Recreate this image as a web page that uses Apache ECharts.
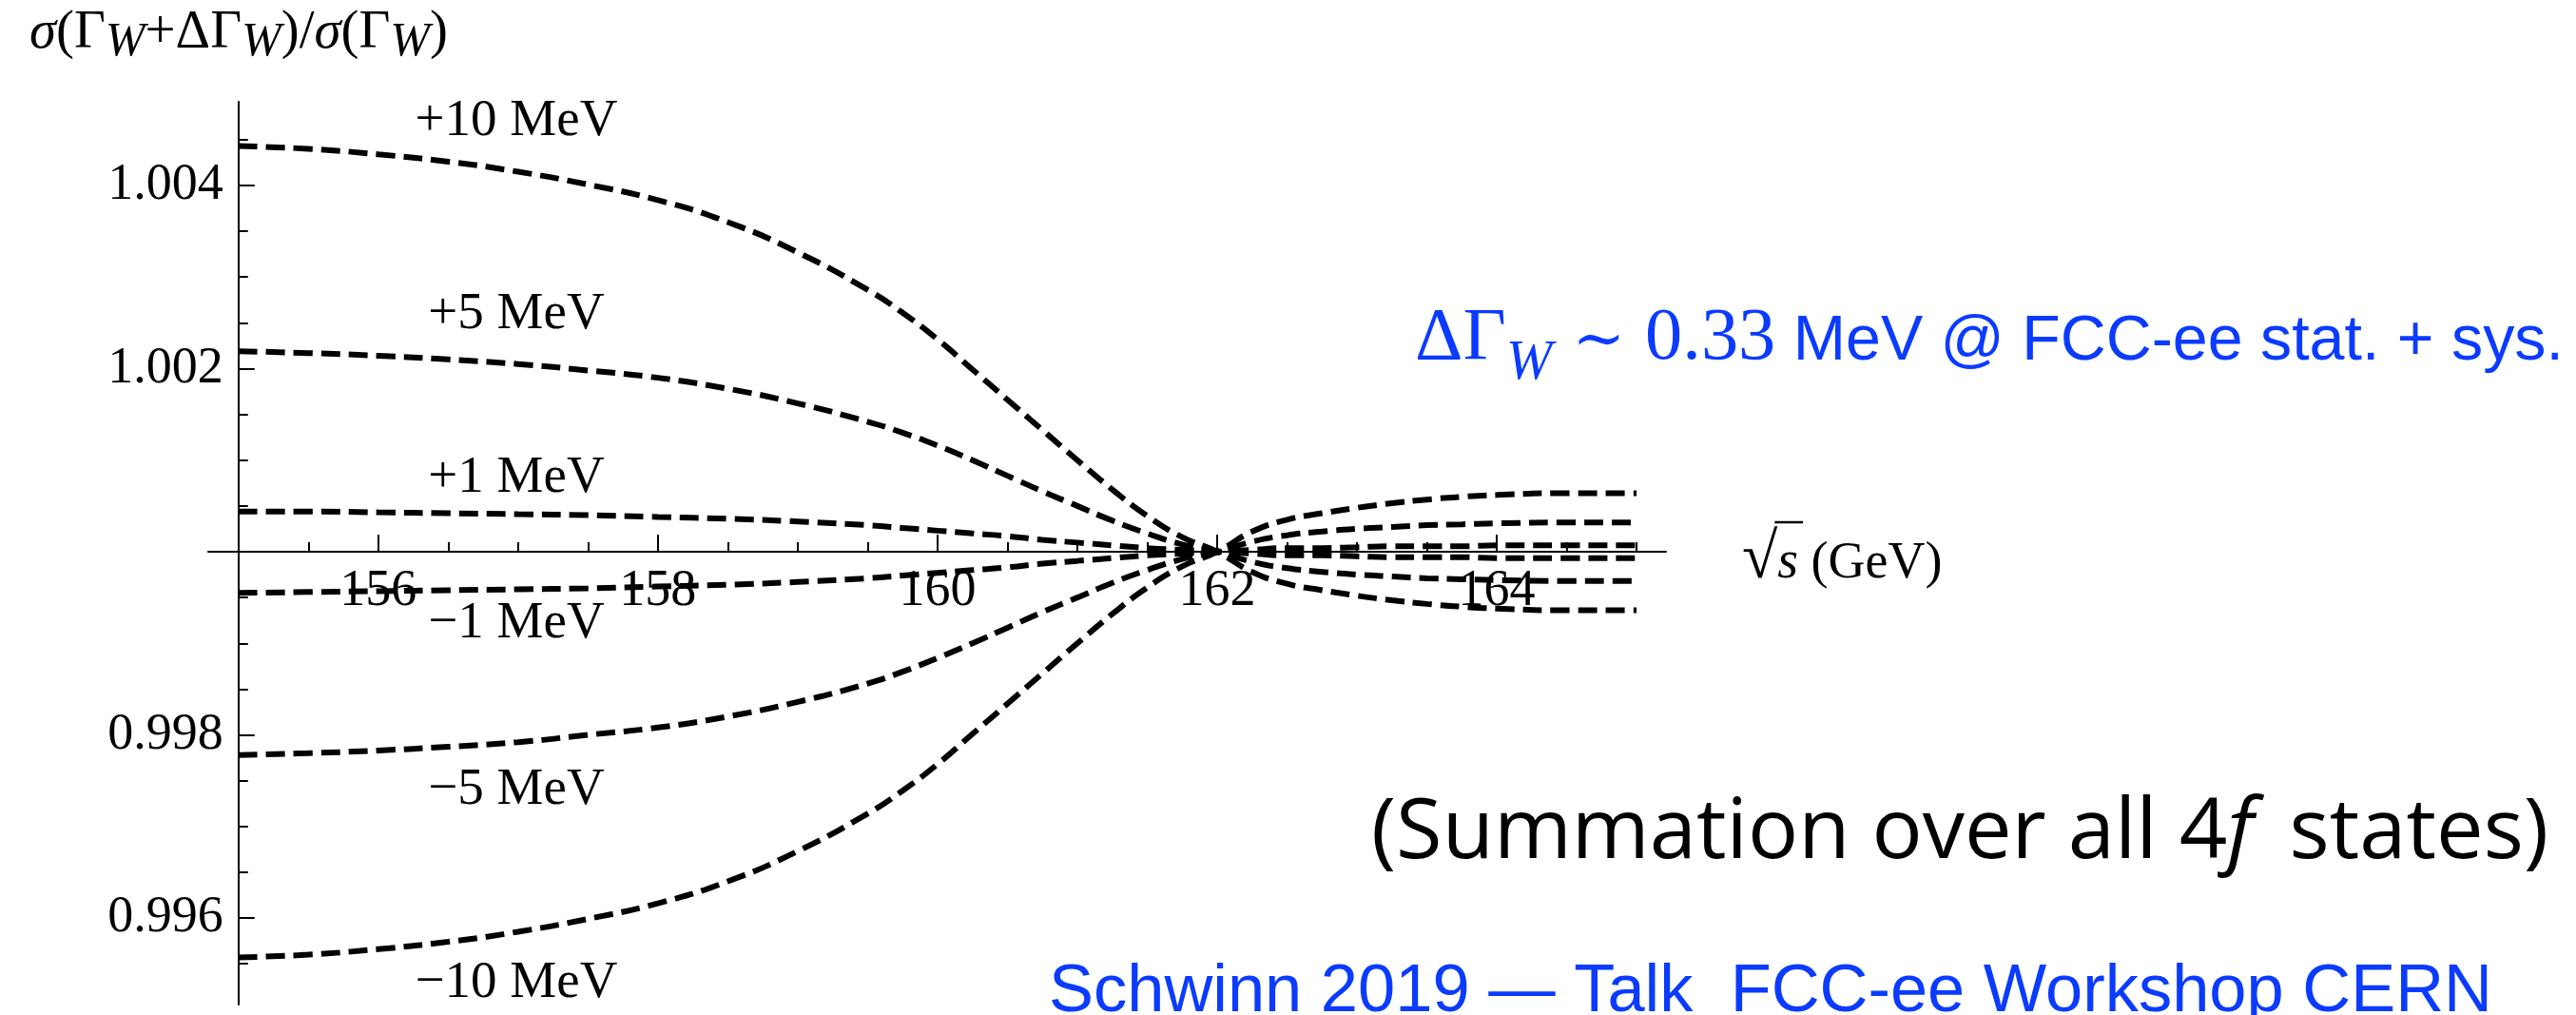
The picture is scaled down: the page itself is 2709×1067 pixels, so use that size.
<!DOCTYPE html>
<html><head><meta charset="utf-8">
<script src="https://cdn.jsdelivr.net/npm/echarts@6/dist/echarts.min.js"></script>
<style>html,body{margin:0;padding:0;background:#fff;overflow:hidden}#c{width:2709px;height:1067px}</style>
</head><body><div id="c"></div>
<script>
// ---- data ----
const xValues = [155, 155.5, 156, 156.5, 157, 157.5, 158, 158.5, 159, 159.5, 159.75, 160, 160.25, 160.5, 160.75, 161, 161.25, 161.5, 161.75, 162, 162.25, 162.5, 162.75, 163, 163.25, 163.5, 163.75, 164, 164.5, 165];
const ratioPlus10 = [1.00443, 1.00440, 1.00434, 1.00426, 1.00415, 1.00401, 1.00384, 1.00360, 1.00327, 1.00286, 1.00261, 1.00232, 1.00199, 1.00166, 1.00133, 1.00100, 1.00068, 1.00039, 1.00016, 1.00000, 0.99978, 0.99965, 0.99958, 0.99952, 0.99947, 0.99943, 0.99940, 0.99938, 0.99936, 0.99936];
const ratioPlus5 = [1.00219, 1.00217, 1.00214, 1.00210, 1.00205, 1.00198, 1.00190, 1.00178, 1.00162, 1.00142, 1.00130, 1.00116, 1.00100, 1.00083, 1.00066, 1.00050, 1.00034, 1.00020, 1.00008, 1.00000, 0.99989, 0.99982, 0.99978, 0.99975, 0.99973, 0.99971, 0.99970, 0.99969, 0.99968, 0.99968];
const ratioPlus1 = [1.00044, 1.00044, 1.00043, 1.00042, 1.00041, 1.00040, 1.00038, 1.00036, 1.00033, 1.00029, 1.00026, 1.00023, 1.00020, 1.00017, 1.00013, 1.00010, 1.00007, 1.00004, 1.00002, 1.00000, 0.99998, 0.99996, 0.99996, 0.99995, 0.99994, 0.99994, 0.99994, 0.99993, 0.99993, 0.99993];
const ratioMinus1 = [0.99955, 0.99956, 0.99957, 0.99958, 0.99959, 0.99960, 0.99962, 0.99964, 0.99967, 0.99971, 0.99974, 0.99977, 0.99980, 0.99983, 0.99987, 0.99990, 0.99993, 0.99996, 0.99998, 1.00000, 1.00002, 1.00004, 1.00004, 1.00005, 1.00006, 1.00006, 1.00006, 1.00007, 1.00007, 1.00007];
const ratioMinus5 = [0.99778, 0.99780, 0.99783, 0.99787, 0.99792, 0.99800, 0.99808, 0.99820, 0.99836, 0.99856, 0.99869, 0.99884, 0.99900, 0.99917, 0.99934, 0.99950, 0.99966, 0.99980, 0.99992, 1.00000, 1.00011, 1.00018, 1.00022, 1.00025, 1.00027, 1.00029, 1.00030, 1.00031, 1.00032, 1.00032];
const ratioMinus10 = [0.99557, 0.99560, 0.99566, 0.99574, 0.99585, 0.99599, 0.99616, 0.99640, 0.99673, 0.99714, 0.99739, 0.99768, 0.99801, 0.99834, 0.99867, 0.99900, 0.99932, 0.99961, 0.99984, 1.00000, 1.00022, 1.00035, 1.00042, 1.00048, 1.00053, 1.00057, 1.00060, 1.00062, 1.00064, 1.00064];
const curveNames = ['+10 MeV', '+5 MeV', '+1 MeV', '\u22121 MeV', '\u22125 MeV', '\u221210 MeV'];
const xMajorTicks = [156, 158, 160, 162, 164];
const xMinorTicks = [155.5, 156.5, 157, 157.5, 158.5, 159, 159.5, 160.5, 161, 161.5, 162.5, 163, 163.5, 164.5, 165];
const yMajorTicks = [0.996, 0.998, 1.002, 1.004];
const yMinorTicks = [0.9955, 0.9965, 0.997, 0.9975, 0.9985, 0.999, 0.9995, 1.0005, 1.001, 1.0015, 1.0025, 1.003, 1.0035, 1.0045];
const xRange = [154.784, 165.21];
const yRange = [0.995055, 1.004914];
const axisOrigin = [155, 1.0];

// ---- layout / style ----
const SERIF = '"Liberation Serif"';
const BLUE = '#0a3bff';
const G = {left: 219, top: 107, width: 1533, height: 949};
const allCurves = [ratioPlus10, ratioPlus5, ratioPlus1, ratioMinus1, ratioMinus5, ratioMinus10];

const mctx = document.createElement('canvas').getContext('2d');
function fontStr(r, k) { return (r.italic ? 'italic ' : '') + (r.size * k).toFixed(2) + 'px ' + r.family; }
function runW(r, k) { mctx.font = fontStr(r, k); mctx.textBaseline = 'alphabetic'; return mctx.measureText(r.text).width; }
function midOff(r, k) { mctx.font = fontStr(r, k); mctx.textBaseline = 'middle'; const m = mctx.measureText('H'); mctx.textBaseline = 'alphabetic'; return m.actualBoundingBoxDescent; }
function placeRuns(runs, x0, baseline, color, target, mode, align) {
  let k = 1, gap = 0;
  const nat = runs.reduce((s, r) => s + runW(r, 1), 0);
  if (target && mode === 'scale') k = target / nat;
  if (target && mode === 'gap' && runs.length > 1) gap = Math.max(0, (target - nat) / (runs.length - 1));
  let x = x0;
  if (align === 'center') x = x0 - runs.reduce((s, r) => s + runW(r, k), 0) / 2;
  const out = [];
  runs.forEach((r, i) => {
    const d = midOff(r, k);
    out.push({type: 'text', x: x, y: baseline + (r.dy || 0) * k - d, silent: true, z: 10,
      style: {text: r.text, font: fontStr(r, k), fill: color, align: 'left', verticalAlign: 'middle', textAlign: 'left', textVerticalAlign: 'middle'}});
    x += runW(r, k) + (i < runs.length - 1 ? gap : 0);
  });
  return out;
}

const chart = echarts.init(document.getElementById('c'), null, {renderer: 'canvas'});
const axisCol = '#000';
const baseOption = {
  animation: false,
  backgroundColor: '#fff',
  grid: {left: G.left, top: G.top, width: G.width, height: G.height, outerBoundsMode: 'none'},
  xAxis: [
    {type: 'value', min: xRange[0], max: xRange[1], position: 'bottom', offset: 0,
     axisLine: {show: true, onZero: false, lineStyle: {color: axisCol, width: 2}},
     axisTick: {show: true, inside: true, length: 18, customValues: xMajorTicks, lineStyle: {color: axisCol, width: 2}},
     axisLabel: {show: true, customValues: xMajorTicks, margin: 15, color: '#000', fontFamily: 'Liberation Serif', fontSize: 54, formatter: v => String(Math.round(v))},
     splitLine: {show: false}},
    {type: 'value', min: xRange[0], max: xRange[1], position: 'top', offset: 0,
     axisLine: {show: false, onZero: false},
     axisTick: {show: true, inside: false, length: 10, customValues: xMinorTicks, lineStyle: {color: axisCol, width: 2}},
     axisLabel: {show: false}, splitLine: {show: false}}
  ],
  yAxis: [
    {type: 'value', min: yRange[0], max: yRange[1], position: 'left', offset: 0,
     axisLine: {show: true, onZero: false, lineStyle: {color: axisCol, width: 2}},
     axisTick: {show: true, inside: true, length: 17, customValues: yMajorTicks, lineStyle: {color: axisCol, width: 2}},
     axisLabel: {show: true, customValues: yMajorTicks, margin: 16, color: '#000', fontFamily: 'Liberation Serif', fontSize: 54, formatter: v => v.toFixed(3)},
     splitLine: {show: false}},
    {type: 'value', min: yRange[0], max: yRange[1], position: 'right', offset: 0,
     axisLine: {show: false, onZero: false},
     axisTick: {show: true, inside: false, length: 10, customValues: yMinorTicks, lineStyle: {color: axisCol, width: 2}},
     axisLabel: {show: false}, splitLine: {show: false}}
  ],
  series: allCurves.map((arr, i) => ({
    name: curveNames[i], type: 'line', xAxisIndex: 0, yAxisIndex: 0,
    data: xValues.map((x, j) => [x, arr[j]]),
    smooth: true, showSymbol: false, symbol: 'none', z: 5,
    lineStyle: {color: '#000', width: 6, type: [20, 9], cap: 'butt'}
  }))
};
chart.setOption(baseOption);

// put the axes through the origin (155, 1.000)
const o = chart.convertToPixel({xAxisIndex: 0, yAxisIndex: 0}, axisOrigin);
const gBottom = G.top + G.height, gRight = G.left + G.width;
chart.setOption({
  xAxis: [{offset: o[1] - gBottom}, {offset: G.top - o[1]}],
  yAxis: [{offset: G.left - o[0]}, {offset: o[0] - gRight}]
});

// ---- texts ----
let els = [];
// y-axis title
els = els.concat(placeRuns([
  {text: '\u03c3', family: SERIF, size: 50, italic: true},
  {text: '(\u0393', family: SERIF, size: 50},
  {text: 'W', family: SERIF, size: 44, italic: true, dy: 7},
  {text: '+\u0394\u0393', family: SERIF, size: 50},
  {text: 'W', family: SERIF, size: 44, italic: true, dy: 7},
  {text: ')/', family: SERIF, size: 50},
  {text: '\u03c3', family: SERIF, size: 50, italic: true},
  {text: '(\u0393', family: SERIF, size: 50},
  {text: 'W', family: SERIF, size: 44, italic: true, dy: 7},
  {text: ')', family: SERIF, size: 50}
], 31, 50, '#000', 440, 'scale'));

// x-axis name  √s (GeV)
const RX = 1832;
const radRun = {text: '\u221a', family: SERIF, size: 68};
const sRun = {text: 's', family: SERIF, size: 56, italic: true};
els = els.concat(placeRuns([radRun, sRun, {text: ' (GeV)', family: SERIF, size: 54}], RX, 607, '#000'));
const radW = runW(radRun, 1);
const sW = runW(sRun, 1);
els.push({type: 'line', silent: true, z: 10, shape: {x1: RX + radW - 3, y1: 549, x2: RX + radW + sW + 5, y2: 549}, style: {stroke: '#000', lineWidth: 2.5}});

// curve labels
const labelBaselines = [142, 345, 517, 670, 845, 1048];
curveNames.forEach((t, i) => {
  els = els.concat(placeRuns([{text: t, family: SERIF, size: 55}], 543, labelBaselines[i], '#000', null, null, 'center'));
});

// blue annotation
els = els.concat(placeRuns([
  {text: '\u0394\u0393', family: SERIF, size: 78},
  {text: 'W', family: SERIF, size: 58, italic: true, dy: 20},
  {text: ' \u223c ', family: '"DejaVu Serif"', size: 66},
  {text: '0.33', family: SERIF, size: 78},
  {text: ' MeV @ FCC-ee stat. + sys.', family: '"Liberation Sans"', size: 66}
], 1488, 378, BLUE, 1208, 'scale'));

// summation note
els = els.concat(placeRuns([
  {text: '(Summation over all 4', family: '"Open Sans"', size: 86},
  {text: 'f', family: '"Open Sans"', size: 86, italic: true},
  {text: ' \u2009states)', family: '"Open Sans"', size: 86}
], 1442, 902, '#000', 1238, 'scale'));

// footer
els = els.concat(placeRuns([
  {text: 'Schwinn 2019 \u2014 Talk  FCC-ee Workshop CERN', family: '"Liberation Sans"', size: 67}
], 1103, 1063, BLUE, 1518, 'scale'));

chart.setOption({graphic: {elements: els}});
</script>
</body></html>
